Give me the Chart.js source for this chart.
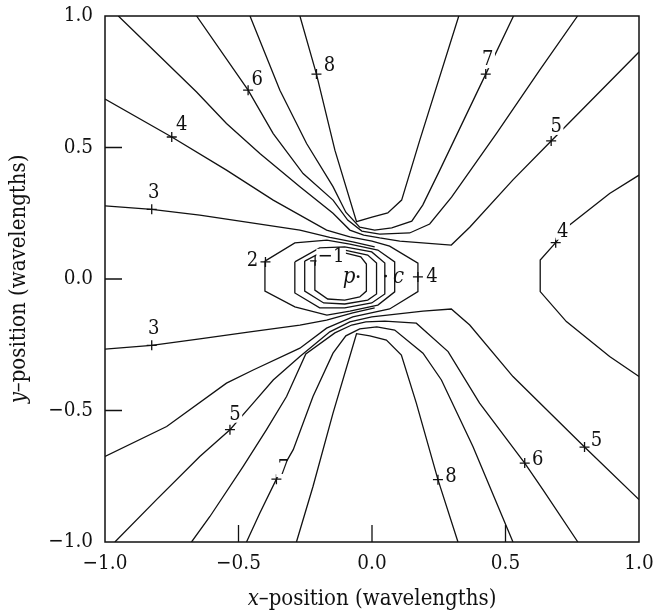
<!DOCTYPE html>
<html>
<head>
<meta charset="utf-8">
<script src="https://cdn.jsdelivr.net/npm/chart.js@4.4.1/dist/chart.umd.min.js"></script>
<style>
  html, body { margin: 0; padding: 0; background: #ffffff; }
  canvas { display: block; }
</style>
</head>
<body>
<canvas id="myChart" width="656" height="615"></canvas>
<script>
const SERIF = '"DejaVu Serif Condensed", "DejaVu Serif", serif';

// axis ticks (wavelengths)
const xTicks = [-1, -0.5, 0, 0.5, 1];
const yTicks = [-1, -0.5, 0, 0.5, 1];
const innerTicks = [-0.5, 0, 0.5];

// contour lines, [x, y] in wavelengths
const c8Upper = [[-0.270, 1.0], [-0.208, 0.779], [-0.139, 0.490], [-0.058, 0.218], [0.000, 0.235],
    [0.059, 0.251], [0.111, 0.300], [0.179, 0.528], [0.325, 1.0]];
const c7Upper = [[-0.457, 1.0], [-0.345, 0.718], [-0.245, 0.515], [-0.146, 0.351], [-0.098, 0.254],
    [-0.046, 0.197], [0.010, 0.186], [0.074, 0.194], [0.149, 0.220], [0.190, 0.281], [0.254, 0.414],
    [0.426, 0.779], [0.530, 1.0]];
const c6Upper = [[-0.657, 1.0], [-0.464, 0.718], [-0.370, 0.553], [-0.258, 0.401], [-0.146, 0.300],
    [-0.091, 0.224], [-0.038, 0.182], [0.029, 0.171], [0.141, 0.175], [0.216, 0.209], [0.298, 0.311],
    [0.467, 0.555], [0.628, 0.794], [0.770, 1.0]];
const c5Upper = [[-0.950, 1.0], [-0.657, 0.711], [-0.545, 0.591], [-0.420, 0.477], [-0.270, 0.351],
    [-0.146, 0.250], [-0.083, 0.186], [-0.031, 0.167], [0.029, 0.156], [0.104, 0.144], [0.297, 0.129],
    [0.366, 0.197], [0.527, 0.376], [0.671, 0.525], [1.0, 0.863]];
const c4Inner = [[-1.0, 0.684], [-0.750, 0.540], [-0.545, 0.414], [-0.370, 0.300], [-0.170, 0.186],
    [-0.083, 0.160], [0.000, 0.144], [0.066, 0.125], [0.172, 0.060], [0.172, -0.048], [0.066, -0.114],
    [-0.072, -0.144], [-0.170, -0.187], [-0.270, -0.263], [-0.445, -0.346], [-0.545, -0.396],
    [-0.769, -0.561], [-1.0, -0.675]];
const c4Right = [[1.0, 0.395], [0.890, 0.325], [0.740, 0.205], [0.688, 0.138], [0.630, 0.072],
    [0.630, -0.048], [0.728, -0.162], [0.890, -0.295], [1.0, -0.371]];
const c3Upper = [[-1.0, 0.278], [-0.825, 0.265], [-0.645, 0.243], [-0.457, 0.214], [-0.270, 0.186],
    [-0.158, 0.158], [-0.072, 0.141], [0.010, 0.122]];
const c3Lower = [[-1.0, -0.267], [-0.825, -0.252], [-0.645, -0.228], [-0.457, -0.201], [-0.270, -0.175],
    [-0.170, -0.156], [-0.072, -0.129], [0.010, -0.110]];
const loopM1 = [[-0.214, 0.065], [-0.166, 0.095], [-0.102, 0.099], [-0.042, 0.084], [-0.021, 0.057],
    [-0.021, -0.046], [-0.046, -0.068], [-0.102, -0.080], [-0.166, -0.076], [-0.214, -0.042], [-0.214, 0.065]];
const loop0 = [[-0.252, 0.068], [-0.181, 0.106], [-0.102, 0.110], [-0.016, 0.091], [0.017, 0.061],
    [0.017, -0.057], [-0.016, -0.080], [-0.102, -0.095], [-0.181, -0.091], [-0.252, -0.046], [-0.252, 0.068]];
const loop1 = [[-0.289, 0.065], [-0.196, 0.118], [-0.102, 0.122], [-0.001, 0.103], [0.048, 0.061],
    [0.048, -0.057], [-0.001, -0.091], [-0.102, -0.110], [-0.196, -0.110], [-0.289, -0.053], [-0.289, 0.065]];
const loop2 = [[-0.401, 0.068], [-0.289, 0.137], [-0.169, 0.148], [-0.083, 0.133], [0.022, 0.110],
    [0.085, 0.065], [0.085, -0.049], [0.022, -0.099], [-0.083, -0.122], [-0.169, -0.137], [-0.289, -0.106],
    [-0.401, -0.046], [-0.401, 0.068]];
const c5Lower = [[-0.963, -1.0], [-0.807, -0.839], [-0.645, -0.675], [-0.532, -0.573], [-0.445, -0.472],
    [-0.370, -0.384], [-0.270, -0.295], [-0.158, -0.201], [-0.083, -0.163], [-0.001, -0.144], [0.191, -0.122],
    [0.297, -0.114], [0.366, -0.175], [0.528, -0.371], [0.796, -0.639], [1.0, -0.839]];
const c6Lower = [[-0.676, -1.0], [-0.607, -0.903], [-0.483, -0.713], [-0.395, -0.573], [-0.320, -0.447],
    [-0.248, -0.285], [-0.139, -0.205], [-0.076, -0.175], [-0.023, -0.163], [0.048, -0.160], [0.166, -0.168],
    [0.285, -0.276], [0.403, -0.472], [0.572, -0.700], [0.640, -0.801], [0.771, -1.0]];
const c7Lower = [[-0.470, -1.0], [-0.420, -0.890], [-0.358, -0.761], [-0.295, -0.649], [-0.221, -0.447],
    [-0.146, -0.282], [-0.098, -0.216], [-0.046, -0.190], [0.018, -0.182], [0.085, -0.194], [0.191, -0.282],
    [0.260, -0.384], [0.378, -0.637], [0.528, -1.0]];
const c8Lower = [[-0.283, -1.0], [-0.221, -0.789], [-0.146, -0.510], [-0.058, -0.208], [-0.008, -0.216],
    [0.054, -0.232], [0.110, -0.289], [0.166, -0.472], [0.247, -0.763], [0.322, -1.0]];

const contours = [c8Upper, c7Upper, c6Upper, c5Upper, c4Inner, c4Right, c3Upper, c3Lower,
    loopM1, loop0, loop1, loop2, c5Lower, c6Lower, c7Lower, c8Lower];

// labelled points on the contours
const markX = [-0.825, -0.750, -0.464, -0.208, 0.426, 0.671, 0.688, 0.172, -0.399, -0.213,
    -0.825, -0.532, -0.358, 0.247, 0.572, 0.796];
const markY = [0.265, 0.540, 0.718, 0.779, 0.779, 0.525, 0.138, 0.008, 0.065, 0.069,
    -0.252, -0.573, -0.761, -0.763, -0.700, -0.639];
const markText = ['3', '4', '6', '8', '7', '5', '4', '4', '2', '\u22121',
    '3', '5', '7', '8', '6', '5'];

// the two source points
const ptX = [-0.052, 0.051];
const ptY = [0.009, 0.011];
const ptName = ['p', 'c'];

// where each level number sits relative to its cross (px), and whether it breaks the line
const labelLayout = [
    [2, -17, 0], [10, -12, 0], [9, -10, 0], [13, -8, 0], [2, -14, 1], [5, -14, 1], [7, -11, 1], [14, 0, 0],
    [-13, -1, 0], [16, -4, 1], [2, -16, 0], [5, -15, 1], [7, -10, 1], [13, -3, 0], [13, -3, 0], [12, -6, 0]
];
const ptLayout = [[-9, 1], [13, 1]];

const toXY = arr => arr.map(p => ({ x: p[0], y: p[1] }));

const datasets = contours.map(c => ({
    data: toXY(c),
    showLine: true,
    borderColor: '#111',
    borderWidth: 1.3,
    pointRadius: 0,
    tension: 0,
    fill: false
}));

datasets.push({
    data: markX.map((x, i) => ({ x, y: markY[i] })),
    showLine: false,
    pointStyle: 'cross',
    pointRadius: 5,
    borderColor: '#111',
    borderWidth: 1.3
});

datasets.push({
    data: ptX.map((x, i) => ({ x, y: ptY[i] })),
    showLine: false,
    pointStyle: 'circle',
    pointRadius: 1.4,
    borderWidth: 0,
    backgroundColor: '#111'
});

const fmt = v => (v < 0 ? '\u2212' : '') + Math.abs(v).toFixed(1);
const TICK_FONT = '20.5px ' + SERIF;
const TITLE_FONT = '22px ' + SERIF;

function drawMixed(ctx, parts, cx, cy) {
    let total = 0;
    parts.forEach(p => { ctx.font = p.font; p.w = ctx.measureText(p.text).width; total += p.w; });
    let x = cx - total / 2;
    ctx.textAlign = 'left';
    ctx.textBaseline = 'middle';
    parts.forEach(p => { ctx.font = p.font; ctx.fillText(p.text, x, cy); x += p.w; });
}

// frame, inward ticks, tick numbers and axis titles
const framePlugin = {
    id: 'frame',
    afterDraw(chart) {
        const ctx = chart.ctx;
        const a = chart.chartArea;
        const xs = chart.scales.x, ys = chart.scales.y;
        ctx.save();
        ctx.strokeStyle = '#111';
        ctx.lineWidth = 1.5;
        ctx.strokeRect(a.left, a.top, a.right - a.left, a.bottom - a.top);
        ctx.lineWidth = 1.3;
        ctx.beginPath();
        innerTicks.forEach(v => {
            const px = xs.getPixelForValue(v);
            ctx.moveTo(px, a.bottom);
            ctx.lineTo(px, a.bottom - 17);
            const py = ys.getPixelForValue(v);
            ctx.moveTo(a.left, py);
            ctx.lineTo(a.left + 17, py);
        });
        ctx.stroke();

        ctx.fillStyle = '#111';
        ctx.font = TICK_FONT;
        ctx.textAlign = 'center';
        ctx.textBaseline = 'middle';
        xTicks.forEach(v => ctx.fillText(fmt(v), xs.getPixelForValue(v), a.bottom + 22));
        ctx.textAlign = 'right';
        yTicks.forEach(v => ctx.fillText(fmt(v), a.left - 12, ys.getPixelForValue(v)));

        drawMixed(ctx, [
            { text: 'x', font: 'italic ' + TITLE_FONT },
            { text: '\u2013position (wavelengths)', font: TITLE_FONT }
        ], (a.left + a.right) / 2, 599);
        ctx.translate(19, (a.top + a.bottom) / 2);
        ctx.rotate(-Math.PI / 2);
        drawMixed(ctx, [
            { text: 'y', font: 'italic ' + TITLE_FONT },
            { text: '\u2013position (wavelengths)', font: TITLE_FONT }
        ], 0, 0);
        ctx.restore();
    }
};

const labelPlugin = {
    id: 'levelLabels',
    afterDatasetsDraw(chart) {
        const ctx = chart.ctx;
        const xs = chart.scales.x, ys = chart.scales.y;
        ctx.save();
        ctx.textAlign = 'center';
        ctx.textBaseline = 'middle';
        ctx.font = '20px ' + SERIF;
        markText.forEach((t, i) => {
            const [dx, dy, knock] = labelLayout[i];
            const px = xs.getPixelForValue(markX[i]) + dx;
            const py = ys.getPixelForValue(markY[i]) + dy;
            if (knock) {
                const w = ctx.measureText(t).width;
                ctx.fillStyle = '#ffffff';
                ctx.fillRect(px - w / 2 - 1.5, py - 8, w + 3, 16);
            }
            ctx.fillStyle = '#111';
            ctx.fillText(t, px, py);
        });
        ctx.font = 'italic 22px ' + SERIF;
        ptName.forEach((t, i) => {
            const px = xs.getPixelForValue(ptX[i]) + ptLayout[i][0];
            const py = ys.getPixelForValue(ptY[i]) + ptLayout[i][1];
            ctx.fillStyle = '#111';
            ctx.fillText(t, px, py);
        });
        ctx.restore();
    }
};

const config = {
    type: 'scatter',
    data: { datasets },
    options: {
        responsive: false,
        animation: false,
        events: [],
        layout: { padding: { left: 0, right: 17, top: 16, bottom: 0 } },
        plugins: { legend: { display: false }, tooltip: { enabled: false } },
        scales: {
            x: {
                type: 'linear',
                min: -1,
                max: 1,
                afterFit: s => { s.height = 73; },
                afterBuildTicks: s => { s.ticks = xTicks.map(v => ({ value: v })); },
                ticks: { display: false },
                grid: { display: false, drawTicks: false },
                border: { display: false }
            },
            y: {
                type: 'linear',
                min: -1,
                max: 1,
                afterFit: s => { s.width = 105; },
                afterBuildTicks: s => { s.ticks = yTicks.map(v => ({ value: v })); },
                ticks: { display: false },
                grid: { display: false, drawTicks: false },
                border: { display: false }
            }
        }
    },
    plugins: [framePlugin, labelPlugin]
};

const myChart = new Chart(document.getElementById('myChart').getContext('2d'), config);
</script>
</body>
</html>
